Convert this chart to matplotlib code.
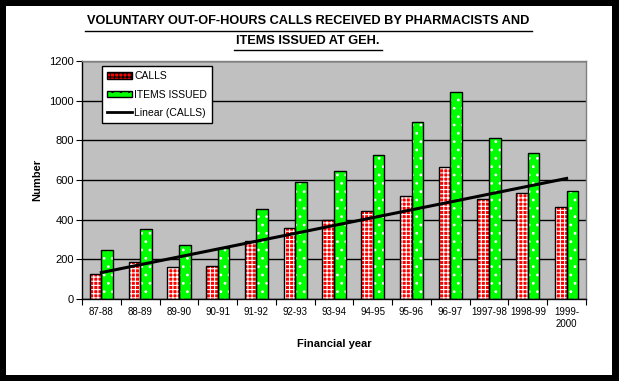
import numpy as np
import matplotlib
matplotlib.use("Agg")
import matplotlib.pyplot as plt
from matplotlib.patches import Rectangle, Patch
from matplotlib.lines import Line2D

years = ["87-88", "88-89", "89-90", "90-91", "91-92", "92-93", "93-94", "94-95",
         "95-96", "96-97", "1997-98", "1998-99", "1999-\n2000"]
calls = [125, 185, 160, 165, 290, 360, 400, 445, 520, 665, 505, 535, 462]
items = [245, 355, 270, 255, 455, 590, 645, 725, 892, 1043, 812, 735, 545]

plt.rcParams['font.family'] = ['Liberation Sans', 'DejaVu Sans']
plt.rcParams['hatch.linewidth'] = 0.8

W, H = 619, 381
fig = plt.figure(figsize=(W / 100, H / 100), dpi=100)
fig.patch.set_facecolor('black')
fig.add_artist(Rectangle((6 / W, 6 / H), (612 - 6) / W, (375 - 6) / H,
                         transform=fig.transFigure, facecolor='white',
                         edgecolor='none', zorder=0))

ax = fig.add_axes([82 / W, 1 - 299 / H, (586 - 82) / W, (299 - 61) / H])
ax.set_facecolor('#C0C0C0')

x = np.arange(len(years))
bw = 0.3
# calls: red with white grid
ax.bar(x - bw / 2, calls, bw, color='#FF0000', edgecolor='white', hatch='++++',
       linewidth=0, zorder=2)
ax.bar(x - bw / 2, calls, bw, facecolor='none', edgecolor='black', linewidth=1.0, zorder=3)
# items: green with white dots
ax.bar(x + bw / 2, items, bw, color='#00FF00', edgecolor='white', hatch='..',
       linewidth=0, zorder=2)
ax.bar(x + bw / 2, items, bw, facecolor='none', edgecolor='black', linewidth=1.0, zorder=3)

# linear trend of calls
xt = np.arange(1, len(calls) + 1)
m, c = np.polyfit(xt, calls, 1)
ax.plot(x, m * xt + c, color='black', linewidth=2.2, zorder=4)

ax.set_xlim(-0.5, len(years) - 0.5)
ax.set_ylim(0, 1200)
ax.set_yticks(np.arange(0, 1201, 200))
ax.yaxis.grid(True, color='black', linewidth=1.0)
ax.set_axisbelow(True)

ax.set_xticks(np.arange(-0.5, len(years), 1.0), minor=False)
ax.set_xticklabels([])
ax.set_xticks(x, minor=True)
ax.set_xticklabels(years, minor=True, fontsize=7)
ax.tick_params(axis='x', which='minor', length=0, pad=6)
ax.tick_params(axis='x', which='major', length=4, direction='out', color='black')
ax.tick_params(axis='y', length=4, direction='out', labelsize=8, pad=2)

for s in ['top', 'right']:
    ax.spines[s].set_color('#808080')
    ax.spines[s].set_linewidth(1.0)
for s in ['left', 'bottom']:
    ax.spines[s].set_color('black')
    ax.spines[s].set_linewidth(1.0)

ax.set_ylabel('Number', fontsize=8, fontweight='bold', labelpad=5)
ax.set_xlabel('Financial year', fontsize=8, fontweight='bold', labelpad=7)

fig.text(308 / W, 1 - 21.5 / H,
         'VOLUNTARY OUT-OF-HOURS CALLS RECEIVED BY PHARMACISTS AND',
         ha='center', va='center', fontsize=9.2, fontweight='bold')
fig.text(308 / W, 1 - 41.5 / H, 'ITEMS ISSUED AT GEH.',
         ha='center', va='center', fontsize=9.2, fontweight='bold')
# underline
for (x0, x1, yy) in [(85, 532, 30.5), (234, 382, 49.5)]:
    fig.add_artist(Line2D([x0 / W, x1 / W], [1 - yy / H, 1 - yy / H],
                          transform=fig.transFigure, color='black', linewidth=1.0))

handles = [
    Patch(facecolor='#FF0000', edgecolor='black', hatch='++++'),
    Patch(facecolor='#00FF00', edgecolor='black', hatch='..'),
    Line2D([0], [0], color='black', linewidth=2),
]
leg = ax.legend(handles, ['CALLS', 'ITEMS ISSUED', 'Linear (CALLS)'],
                loc='upper left', bbox_to_anchor=((102 - 82) / (586 - 82), 1 - 5 / 238),
                fontsize=7.5, frameon=True, fancybox=False, framealpha=1,
                edgecolor='black', borderpad=0.5, labelspacing=0.8,
                handlelength=2.4, handleheight=0.6, handletextpad=0.2, borderaxespad=0)
leg.get_frame().set_linewidth(1.0)

fig.savefig('out.png', dpi=100, facecolor=fig.get_facecolor())
